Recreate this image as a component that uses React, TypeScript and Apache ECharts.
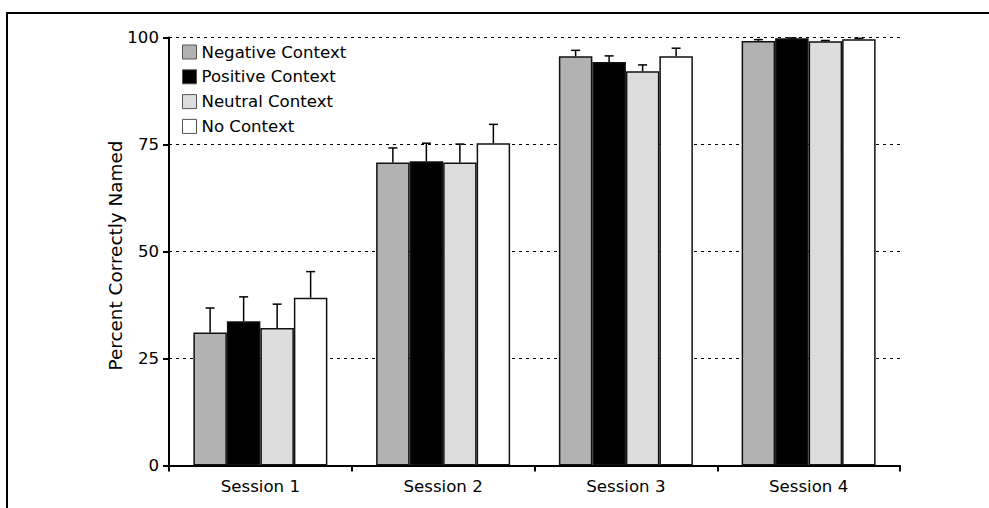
import React, { useEffect, useRef } from "react";
import * as echarts from "echarts";

const categories = ["Session 1", "Session 2", "Session 3", "Session 4"];
const seriesNames = ["Negative Context", "Positive Context", "Neutral Context", "No Context"];
const negative = [31.1, 70.8, 95.6, 99.2];
const positive = [33.7, 71.1, 94.3, 99.8];
const neutral = [32.1, 70.8, 92.1, 99.1];
const noContext = [39.2, 75.3, 95.6, 99.6];
const negativeErr = [5.7, 3.4, 1.4, 0.3];
const positiveErr = [5.7, 4.2, 1.4, 0.1];
const neutralErr = [5.6, 4.3, 1.5, 0.2];
const noContextErr = [6.1, 4.4, 1.9, 0.2];
const yTicks = [0, 25, 50, 75, 100];

const colors = ["#b2b2b2", "#000000", "#dddddd", "#ffffff"];
const FONT = "DejaVu Sans";
const FS = 16.6;
const BAR_W = 33.5;

export default function App() {
  const ref = useRef<HTMLDivElement>(null);
  useEffect(() => {
    if (!ref.current) return;
    const chart = echarts.init(ref.current, null, { renderer: "svg" });
    const values = [negative, positive, neutral, noContext];
    const errs = [negativeErr, positiveErr, neutralErr, noContextErr];
    const errData: number[][] = [];
    values.forEach((vals, s) => {
      vals.forEach((v, c) => errData.push([c, s, v, errs[s][c]]));
    });
    const barSeries = seriesNames.map((name, i) => ({
      name,
      type: "bar",
      data: values[i],
      barWidth: BAR_W,
      barGap: "0%",
      itemStyle: { color: colors[i], borderColor: "#111", borderWidth: 1.5 },
      z: 2,
    }));
    chart.setOption({
      animation: false,
      textStyle: { fontFamily: FONT },
      grid: { left: 169, right: 89, top: 37.5, bottom: 42.5, containLabel: false },
      legend: {
        orient: "vertical",
        left: 177,
        top: 38.5,
        itemWidth: 14,
        itemHeight: 14,
        itemGap: 7.8,
        icon: "rect",
        data: seriesNames.map((n, i) => ({
          name: n,
          itemStyle: { color: colors[i], borderColor: "#555", borderWidth: 1 },
        })),
        textStyle: { fontFamily: FONT, fontSize: FS, color: "#000" },
      },
      xAxis: {
        type: "category",
        data: categories,
        axisLine: { lineStyle: { color: "#000", width: 2 } },
        axisTick: { show: true, length: 6, lineStyle: { color: "#000", width: 2 } },
        axisLabel: { fontFamily: FONT, fontSize: FS, color: "#000", margin: 12 },
      },
      yAxis: {
        type: "value",
        min: yTicks[0],
        max: yTicks[yTicks.length - 1],
        interval: 25,
        name: "Percent Correctly Named",
        nameLocation: "middle",
        nameGap: 45,
        nameMoveOverlap: false,
        nameTextStyle: { fontFamily: FONT, fontSize: 18.4, color: "#000", padding: [0, 8, 0, 0] },
        axisLine: { show: true, lineStyle: { color: "#000", width: 2 } },
        axisTick: { show: true, length: 6, lineStyle: { color: "#000", width: 2 } },
        axisLabel: { fontFamily: FONT, fontSize: FS, color: "#000", margin: 10 },
        splitLine: { show: true, lineStyle: { color: "#000", type: [3, 4], width: 1 } },
      },
      series: [
        ...barSeries,
        {
          type: "custom",
          name: "errors",
          data: errData,
          encode: { x: 0, y: 2 },
          z: 5,
          silent: true,
          renderItem: (params: any, api: any) => {
            const c = api.value(0);
            const s = api.value(1);
            const v = api.value(2);
            const e = api.value(3);
            const base = api.coord([c, v]);
            const top = api.coord([c, v + e]);
            const x = base[0] + (s - 1.5) * BAR_W;
            const style = { stroke: "#000", lineWidth: 1.5 };
            return {
              type: "group",
              children: [
                { type: "line", shape: { x1: x, y1: base[1], x2: x, y2: top[1] }, style },
                { type: "line", shape: { x1: x - 4.5, y1: top[1], x2: x + 4.5, y2: top[1] }, style },
              ],
            };
          },
        },
      ],
      graphic: [
        { type: "line", shape: { x1: 7, y1: 13, x2: 989, y2: 13 }, style: { stroke: "#000", lineWidth: 2 } },
        { type: "line", shape: { x1: 7, y1: 12, x2: 7, y2: 508 }, style: { stroke: "#000", lineWidth: 2 } },
      ],
    });
    return () => chart.dispose();
  }, []);
  return (
    <div
      ref={ref}
      style={{ position: "fixed", left: 0, top: 0, width: 989, height: 508, background: "#fff" }}
    />
  );
}
